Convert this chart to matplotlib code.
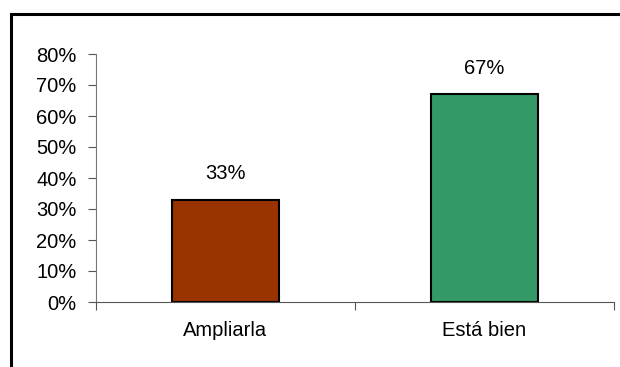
import matplotlib.pyplot as plt
from matplotlib.patches import Rectangle
from matplotlib.ticker import PercentFormatter

categories = ['Ampliarla', 'Está bien']
values = [33, 67]
colors = ['#993300', '#339966']
yticks = [0, 10, 20, 30, 40, 50, 60, 70, 80]

plt.rcParams['font.family'] = ['Liberation Sans', 'DejaVu Sans']

fig = plt.figure(figsize=(6.2, 3.67), dpi=100)
# outer frame (only top and left edges show)
fig.patches.append(Rectangle((11/620, -0.1), 1.2, 1 - 14/367 + 0.1, transform=fig.transFigure,
                             fill=False, edgecolor='black', linewidth=2.2))

ax = fig.add_axes([96/620, 1 - 302/367, (614 - 96)/620, (302 - 54)/367])
x = range(len(categories))
ax.bar(x, values, width=0.41, color=colors, edgecolor='black', linewidth=1.5)
for xi, v in zip(x, values):
    ax.text(xi, v + 6.7, f'{v}%', ha='center', va='baseline', fontsize=14.5)

ax.set_xlim(-0.5, 1.5)
ax.set_ylim(0, 80)
ax.set_yticks(yticks)
ax.yaxis.set_major_formatter(PercentFormatter(decimals=0))
ax.set_xticks([-0.5, 0.5, 1.5])
ax.set_xticklabels([])
ax.set_xticks([0, 1], minor=True)
ax.set_xticklabels(categories, minor=True)
ax.tick_params(axis='x', which='minor', length=0, pad=14, labelsize=14.5)
ax.tick_params(axis='x', which='major', length=6, direction='out', color='#555555')
ax.tick_params(axis='y', length=6, direction='out', color='#555555', labelsize=14.5, pad=8)
for s in ['top', 'right']:
    ax.spines[s].set_visible(False)
ax.spines['left'].set_color('#777777')
ax.spines['bottom'].set_color('#555555')

fig.savefig('out.png', dpi=100)
